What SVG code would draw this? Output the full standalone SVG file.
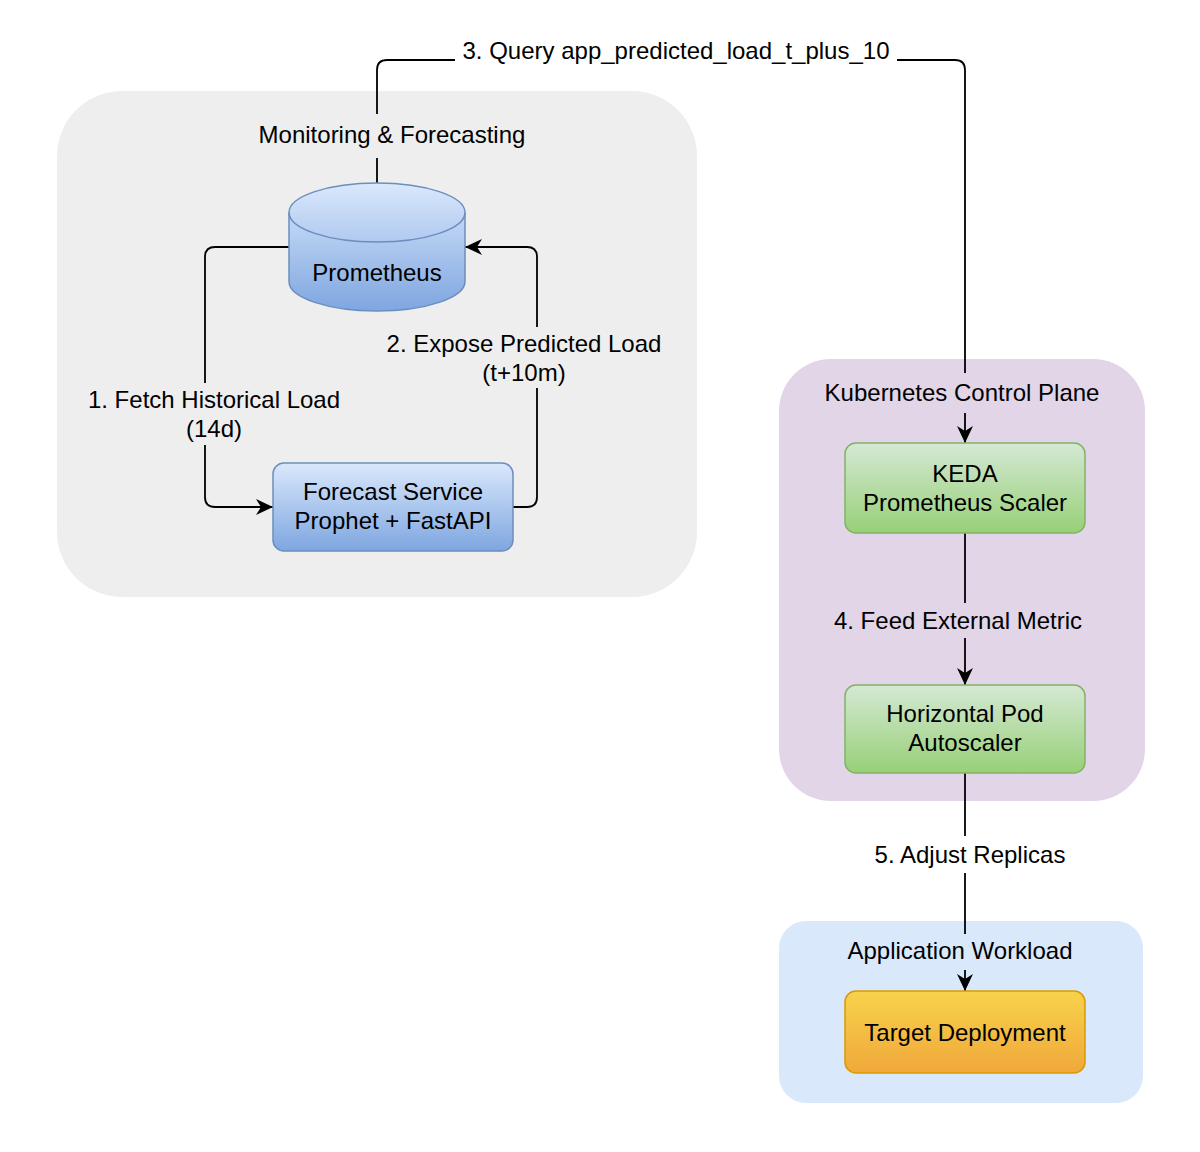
<svg xmlns="http://www.w3.org/2000/svg" width="1200" height="1152" viewBox="0 0 1200 1152">
<defs>
<linearGradient id="gBlue" x1="0" y1="0" x2="0" y2="1"><stop offset="0" stop-color="#dae8fc"/><stop offset="1" stop-color="#7ea6e0"/></linearGradient>
<linearGradient id="gGreen" x1="0" y1="0" x2="0" y2="1"><stop offset="0" stop-color="#d5e8d4"/><stop offset="1" stop-color="#97d077"/></linearGradient>
<linearGradient id="gOrange" x1="0" y1="0" x2="0" y2="1"><stop offset="0" stop-color="#f8d24c"/><stop offset="1" stop-color="#f0a83a"/></linearGradient>
<marker id="arr" markerUnits="userSpaceOnUse" markerWidth="19" markerHeight="18" viewBox="0 0 19 18" refX="18" refY="9" orient="auto">
<path d="M1,1 L18,9 L1,17 L6,9 Z" fill="#000"/>
</marker>
</defs>
<style>
text{font-family:"Liberation Sans",Arial,Helvetica,sans-serif;font-size:24px;fill:#000;text-anchor:middle}
.edge{fill:none;stroke:#000;stroke-width:1.8}
.blue{fill:url(#gBlue);stroke:#6c8ebf;stroke-width:1.5}
.green{fill:url(#gGreen);stroke:#82b366;stroke-width:1.5}
.orange{fill:url(#gOrange);stroke:#d79b00;stroke-width:1.5}
</style>
<rect width="1200" height="1152" fill="#fff"/>
<g id="group-monitoring"><rect x="57" y="91" width="640" height="506" rx="65" fill="#eeeeee"/></g>
<g id="group-k8s"><rect x="779" y="359" width="366" height="442" rx="52" fill="#e1d5e7"/></g>
<g id="group-app"><rect x="779" y="921" width="364" height="182" rx="27" fill="#dae8fc"/></g>
<g id="connectors">
<path class="edge" d="M289,247 L215,247 Q205,247 205,257 L205,497 Q205,507 215,507 L273,507" marker-end="url(#arr)"/>
<path class="edge" d="M513,507 L527,507 Q537,507 537,497 L537,257 Q537,247 527,247 L465,247" marker-end="url(#arr)"/>
<path class="edge" d="M377,183 L377,70 Q377,60 387,60 L955,60 Q965,60 965,70 L965,443" marker-end="url(#arr)"/>
<path class="edge" d="M965,533 L965,685" marker-end="url(#arr)"/>
<path class="edge" d="M965,773 L965,991" marker-end="url(#arr)"/>
<rect x="455" y="48" width="442" height="24" fill="#fff"/>
<text x="676" y="59">3. Query app_predicted_load_t_plus_10</text>
<rect x="86" y="383" width="257" height="62" fill="#eeeeee"/>
<text x="214" y="408">1. Fetch Historical Load</text>
<text x="214" y="437">(14d)</text>
<rect x="383" y="327" width="282" height="61" fill="#eeeeee"/>
<text x="524" y="352">2. Expose Predicted Load</text>
<text x="524" y="381">(t+10m)</text>
<rect x="830" y="603" width="256" height="35" fill="#e1d5e7"/>
<text x="958" y="629">4. Feed External Metric</text>
<rect x="870" y="836" width="200" height="37" fill="#fff"/>
<text x="970" y="863">5. Adjust Replicas</text>
</g>
<g id="label-monitoring"><rect x="255" y="114" width="275" height="44" fill="#eeeeee"/><text x="392" y="143">Monitoring &amp; Forecasting</text></g>
<g id="label-k8s"><rect x="820" y="373" width="284" height="40" fill="#e1d5e7"/><text x="962" y="401">Kubernetes Control Plane</text></g>
<g id="label-app"><rect x="844" y="934" width="232" height="36" fill="#dae8fc"/><text x="960" y="959">Application Workload</text></g>
<g id="node-prometheus">
<path class="blue" d="M289,212.5 A88,29.5 0 0 1 465,212.5 L465,281.5 A88,29.5 0 0 1 289,281.5 Z"/>
<path d="M289,212.5 A88,29.5 0 0 0 465,212.5" fill="none" stroke="#6c8ebf" stroke-width="1.5"/>
<text x="377" y="281">Prometheus</text>
</g>
<g id="node-forecast">
<rect class="blue" x="273" y="463" width="240" height="88" rx="11"/>
<text x="393" y="500">Forecast Service</text>
<text x="393" y="529">Prophet + FastAPI</text>
</g>
<g id="node-keda">
<rect class="green" x="845" y="443" width="240" height="90" rx="11"/>
<text x="965" y="482">KEDA</text>
<text x="965" y="511">Prometheus Scaler</text>
</g>
<g id="node-hpa">
<rect class="green" x="845" y="685" width="240" height="88" rx="11"/>
<text x="965" y="722">Horizontal Pod</text>
<text x="965" y="751">Autoscaler</text>
</g>
<g id="node-target">
<rect class="orange" x="845" y="991" width="240" height="82" rx="11"/>
<text x="965" y="1041">Target Deployment</text>
</g>
</svg>
